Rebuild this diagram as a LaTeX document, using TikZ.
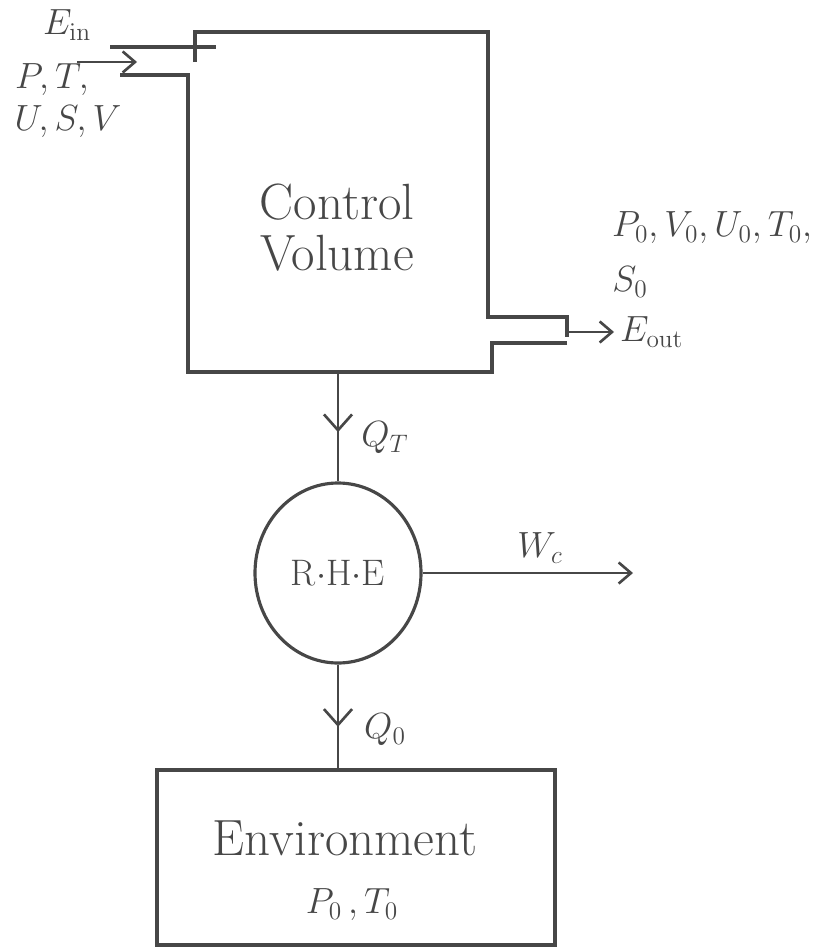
\documentclass[tikz,border=0pt]{standalone}
\usepackage{tikz}
\usetikzlibrary{arrows.meta,calc,positioning,shapes.geometric,decorations.markings}
\definecolor{ink}{HTML}{474747}

\tikzset{
  wall/.style={draw=ink,line width=1.8pt},
  flow/.style={draw=ink,line width=1.5pt,-{Straight Barb[length=7pt,width=12pt]}},
  heatflow/.style={draw=ink,line width=1.5pt,postaction={decorate},
    decoration={markings,mark=at position #1 with {\arrow{Straight Barb[length=9pt,width=16pt]}}}},
  lbl/.style={text=ink,font=\fontsize{21}{25}\selectfont},
  bigtext/.style={text=ink,font=\fontsize{29}{33}\selectfont},
}

\begin{document}
\begin{tikzpicture}[x=0.02cm,y=-0.02cm]
\useasboundingbox (0,0) rectangle (832,950);

% Control volume with inlet pipe (top left) and outlet pipe (right).
\draw[wall] (195,62) -- (195,32) -- (488,32) -- (488,317) -- (567,317) -- (567,337);
\draw[wall] (567,343) -- (492,343) -- (492,372) -- (188,372) -- (188,75) -- (120,75);
\draw[wall] (110,47) -- (216,47);
\node[bigtext,align=center] (cvtext) at (337,228) {Control\\[-4pt]Volume};

% Inlet state and energy.
\node[lbl] (ein) at (67,25) {$E_{\mathrm{in}}$};
\node[lbl] (pt) at (52,80) {$P,T,$};
\node[lbl] (usv) at (68,122) {$U,S,V$};
\coordinate (einfrom) at (77,62);
\coordinate (eintip) at (137,62);
\draw[flow] (einfrom) -- (eintip);

% Outlet state and energy.
\node[lbl] (outstate) at (712,228) {$P_0, V_0, U_0, T_0,$};
\node[lbl] (s0) at (630,282) {$S_0$};
\node[lbl,anchor=west] (eout) at (614,332) {$E_{\mathrm{out}}$};
\coordinate (outfrom) at (568,332);
\draw[flow] (outfrom) -- (eout.west);

% Reversible heat engine between the control volume and the surroundings.
\node[ellipse,wall,minimum width=166*0.02cm,minimum height=180*0.02cm,lbl] (rhe) at (338,573) {R$\cdot$H$\cdot$E};
\coordinate (cvout) at (338,372);
\draw[heatflow=.55] (cvout) -- (rhe.north);
\node[lbl] (qt) at (385,438) {$Q_T$};

\coordinate (wcend) at (633,573);
\draw[flow] (rhe.east) -- (wcend);
\node[lbl] (wc) at (540,548) {$W_c$};

% Environment at the dead state.
\node[wall,minimum width=398*0.02cm,minimum height=175*0.02cm] (env) at (356,857.5) {};
\draw[heatflow=.6] (rhe.south) -- (rhe.south |- env.north);
\node[lbl] (qo) at (385,730) {$Q_0$};
\node[bigtext] (envtext) at (345,838) {Environment};
\node[lbl] (envstate) at (352,905) {$P_0\,,T_0$};
\end{tikzpicture}
\end{document}
